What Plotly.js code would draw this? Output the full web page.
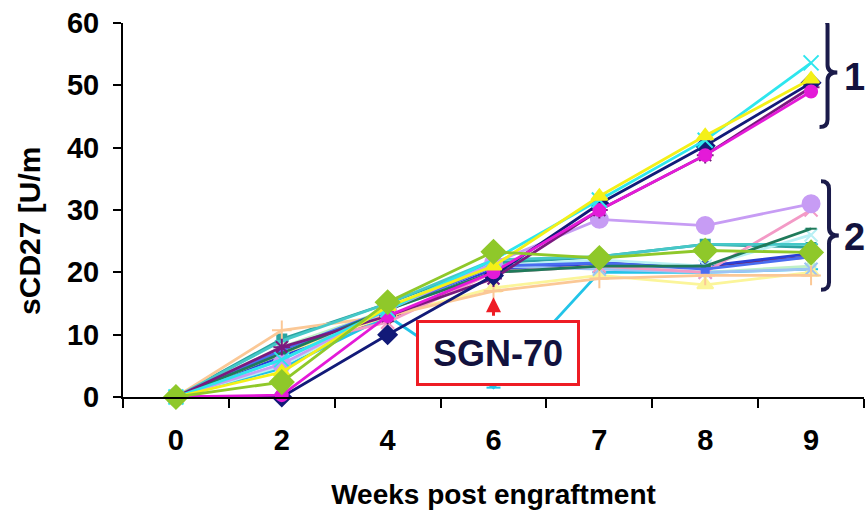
<!DOCTYPE html>
<html>
<head>
<meta charset="utf-8">
<script src="https://cdn.plot.ly/plotly-3.0.1.min.js"></script>
<style>
html,body{margin:0;padding:0;background:#fff;}
#chart{width:866px;height:512px;}
</style>
</head>
<body>
<div id="chart"></div>
<script>
// Weeks post engraftment (categories)
const weeks = ['0','2','4','6','7','8','9'];

// Group 1 series (rising)
const sNavy    = [0, 0.0, 10.0, 19.5, 31.0, 40.3, 50.4];
const sMagenta = [0, 0.3, 13.0, 20.0, 30.0, 38.8, 49.0];
const sYellow  = [0, 4.0, 14.5, 21.0, 32.2, 41.9, 51.0];
const sCyan    = [0, 6.0, 14.0, 22.0, 31.6, 41.2, 53.6];
const sPurple  = [0, 8.0, 13.0, 19.0, 30.0, 38.8, 49.7];

// Group 2 series (plateau)
const sMaroon     = [0, 7.0, 12.5, 20.0, 21.5, 21.0, 22.5];
const sTeal       = [0, 9.3, 15.0, 21.5, 22.5, 24.5, 24.0];
const sBlue       = [0, 6.4, 14.0, 20.5, 21.5, 21.0, 23.0];
const sSky        = [0, 4.6, 13.0, 1.5, 20.0, 20.0, 20.5];
const sTurquoise  = [0, 5.0, 14.0, 21.0, 22.0, 21.0, 26.0];
const sLightGreen = [0, 8.0, 14.0, 20.0, 21.0, 20.0, 21.0];
const sLightYel   = [0, 7.0, 13.0, 17.5, 19.5, 18.0, 20.0];
const sPaleBlue   = [0, 6.0, 14.0, 21.0, 20.5, 20.0, 20.5];
const sRose       = [0, 8.0, 12.0, 20.0, 21.0, 20.0, 30.0];
const sTan        = [0, 10.7, 13.0, 17.0, 19.0, 19.5, 19.5];
const sRoyal      = [0, 7.5, 14.0, 21.0, 21.5, 20.5, 22.5];
const sAqua       = [0, 9.0, 15.0, 22.0, 22.5, 24.5, 24.5];
const sDkGreen    = [0, 7.0, 14.0, 20.0, 21.0, 21.0, 27.0];
const sLavender   = [0, 5.3, 14.0, 21.5, 28.5, 27.5, 31.0];
const sYelGreen   = [0, 2.4, 15.2, 23.3, 22.3, 23.5, 23.2];

const yTicks = [0, 10, 20, 30, 40, 50, 60];
const arrowWeek = '6';
const arrowValue = 16;

const seriesList = [
  {y: sMaroon,     c: '#8b1a3a', m: 'circle',         s: 9},
  {y: sTeal,       c: '#2aa3a0', m: 'square',         s: 9},
  {y: sBlue,       c: '#2a3fd6', m: 'square',         s: 8},
  {y: sSky,        c: '#22c4e8', m: 'line-ew-open',   s: 10},
  {y: sTurquoise,  c: '#b8f0f4', m: 'x-thin-open',    s: 13},
  {y: sLightGreen, c: '#bff0c8', m: 'circle',         s: 9},
  {y: sLightYel,   c: '#fbf59a', m: 'triangle-up',    s: 14},
  {y: sPaleBlue,   c: '#9cc4f4', m: 'x-thin-open',    s: 13},
  {y: sRose,       c: '#f39ac6', m: 'x-thin-open',    s: 13},
  {y: sTan,        c: '#fbc896', m: 'cross-thin-open',s: 14},
  {y: sRoyal,      c: '#4a6cf0', m: 'square',         s: 7},
  {y: sAqua,       c: '#46c8c8', m: 'line-ew-open',   s: 10},
  {y: sDkGreen,    c: '#1f7a5a', m: 'line-ew-open',   s: 8},
  {y: sLavender,   c: '#c79cf4', m: 'circle',         s: 17},
  {y: sPurple,     c: '#7a1a7e', m: 'asterisk-open',  s: 14},
  {y: sNavy,       c: '#121a78', m: 'diamond',        s: 14},
  {y: sMagenta,    c: '#e41ad8', m: 'circle',         s: 12},
  {y: sCyan,       c: '#2ee6ee', m: 'x-thin-open',    s: 15},
  {y: sYellow,     c: '#f4f018', m: 'triangle-up',    s: 14},
  {y: sYelGreen,   c: '#8fc82a', m: 'diamond',        s: 18}
];

const traces = seriesList.map(function(d){
  return {
    x: weeks, y: d.y, type: 'scatter', mode: 'lines+markers',
    cliponaxis: false, hoverinfo: 'skip',
    line: {color: d.c, width: 2.8},
    marker: {symbol: d.m, size: d.s, color: d.c, line: {color: d.c, width: 2}}
  };
});

const navyText = '#12123e';
const braceCol = '#1a1a4a';
const fam = 'Arial, Liberation Sans, sans-serif';

function bracePath(x0, yTop, yBot, w){
  const ym = (yTop + yBot) / 2;
  const dx = w, dy = (yTop - yBot);
  const r = dy * 0.07;
  const xm = x0 + dx * 0.45;
  return 'M ' + x0 + ' ' + yTop +
    ' Q ' + xm + ' ' + yTop + ' ' + xm + ' ' + (yTop - r) +
    ' L ' + xm + ' ' + (ym + r) +
    ' Q ' + xm + ' ' + ym + ' ' + (x0 + dx) + ' ' + ym +
    ' Q ' + xm + ' ' + ym + ' ' + xm + ' ' + (ym - r) +
    ' L ' + xm + ' ' + (yBot + r) +
    ' Q ' + xm + ' ' + yBot + ' ' + x0 + ' ' + yBot;
}

const layout = {
  width: 866, height: 512,
  margin: {l: 123, r: 2, t: 23, b: 115},
  paper_bgcolor: '#ffffff', plot_bgcolor: '#ffffff',
  showlegend: false,
  font: {family: fam, color: '#000'},
  xaxis: {
    type: 'category', range: [-0.5, 6.5], tickson: 'boundaries',
    showgrid: false, zeroline: false,
    showline: true, linecolor: '#000', linewidth: 2,
    ticks: 'outside', ticklen: 9, tickwidth: 2, tickcolor: '#000',
    tickfont: {size: 29, family: fam, weight: 'bold', color: '#000'},
    ticklabelstandoff: 16,
    title: {text: 'Weeks post engraftment', standoff: 30,
            font: {size: 28, family: fam, weight: 'bold', color: '#000'}}
  },
  yaxis: {
    range: [0, 60], tickvals: yTicks, ticktext: yTicks.map(String),
    showgrid: false, zeroline: false,
    showline: true, linecolor: '#000', linewidth: 2,
    ticks: 'outside', ticklen: 8, tickwidth: 2, tickcolor: '#000',
    tickfont: {size: 29, family: fam, weight: 'bold', color: '#000'},
    ticklabelstandoff: 8,
    title: {text: ''}
  },
  shapes: [
    {type: 'path', xref: 'paper', yref: 'y', path: bracePath(0.940, 60.8, 43.3, 0.024),
     line: {color: braceCol, width: 4}, fillcolor: 'rgba(0,0,0,0)', layer: 'above'},
    {type: 'path', xref: 'paper', yref: 'y', path: bracePath(0.942, 34.6, 17.2, 0.024),
     line: {color: braceCol, width: 4}, fillcolor: 'rgba(0,0,0,0)', layer: 'above'}
  ],
  annotations: [
    {xref: 'paper', yref: 'paper', x: -0.1255, y: 0.444, xanchor: 'center', yanchor: 'middle',
     textangle: -90, text: '<b>sCD27 [U/m</b>', showarrow: false,
     font: {size: 30, color: '#000', family: fam}},
    {xref: 'paper', yref: 'y', x: 1.0, y: 51.3, xanchor: 'right', yanchor: 'middle', xshift: 2,
     text: '<b>1</b>', showarrow: false, borderpad: 0, font: {size: 38, color: navyText, family: fam}},
    {xref: 'paper', yref: 'y', x: 1.0, y: 25.6, xanchor: 'right', yanchor: 'middle', xshift: 2,
     text: '<b>2</b>', showarrow: false, borderpad: 0, font: {size: 38, color: navyText, family: fam}},
    {xref: 'x', yref: 'y', x: weeks.indexOf(arrowWeek), y: arrowValue, ax: 0, ay: 20, axref: 'pixel', ayref: 'pixel',
     text: '', showarrow: true, arrowhead: 2, arrowsize: 1, arrowwidth: 3, arrowcolor: '#ee1c24'},
    {xref: 'paper', yref: 'y', x: 0.506, y: 7.0, xanchor: 'center', yanchor: 'middle',
     text: '<b>SGN-70</b>', showarrow: false, width: 158, height: 60,
     bgcolor: '#ffffff', bordercolor: '#ee1c24', borderwidth: 3, borderpad: 0,
     font: {size: 36, color: navyText, family: fam}}
  ]
};

Plotly.newPlot('chart', traces, layout, {staticPlot: true, displayModeBar: false});
</script>
</body>
</html>
